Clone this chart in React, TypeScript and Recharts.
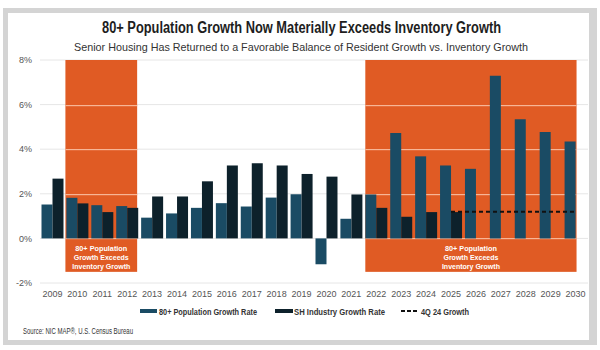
import React from 'react';
import {
  ComposedChart, Bar, Line, XAxis, YAxis, CartesianGrid, ReferenceArea, Legend,
} from 'recharts';

const years = ['2009','2010','2011','2012','2013','2014','2015','2016','2017','2018','2019','2020','2021','2022','2023','2024','2025','2026','2027','2028','2029','2030'];
const popGrowth = [1.52, 1.82, 1.49, 1.45, 0.93, 1.12, 1.37, 1.58, 1.43, 1.83, 1.98, -1.16, 0.88, 1.97, 4.73, 3.68, 3.27, 3.12, 7.29, 5.34, 4.77, 4.34];
const shGrowth: (number | null)[] = [2.68, 1.57, 1.18, 1.37, 1.88, 1.88, 2.56, 3.27, 3.37, 3.27, 2.89, 2.77, 1.97, 1.37, 0.97, 1.18, 1.18, null, null, null, null, null];
const q4Growth: (number | null)[] = [null, null, null, null, null, null, null, null, null, null, null, null, null, null, null, null, 1.2, 1.2, 1.2, 1.2, 1.2, 1.2];
const yTicks = [-2, 0, 2, 4, 6, 8];
const regionLabel = ['80+ Population', 'Growth Exceeds', 'Inventory Growth'];
const regionLabelWidths = [52, 55, 58];
const regionY1 = -1.5;
const regionY2 = 8;
const regions = [
  { from: '2010', to: '2012', bands: 3, trimL: 0.02, trimR: 0.1 },
  { from: '2022', to: '2030', bands: 9, trimL: 0.06, trimR: 0.46 },
];
const title = '80+ Population Growth Now Materially Exceeds Inventory Growth';
const subtitle = 'Senior Housing Has Returned to a Favorable Balance of Resident Growth vs. Inventory Growth';
const source = 'Source: NIC MAP®, U.S. Census Bureau';

const data = years.map((y, i) => ({ year: y, pop: popGrowth[i], sh: shGrowth[i], q4: q4Growth[i] }));

const POP = '#1a4b64';
const SH = '#0d212b';
const ORANGE = '#e05b24';
const SANS = '"Liberation Sans", Arial, sans-serif';

const makeShape = (bands: number, trimL: number, trimR: number) => (p: any) => {
  const top = Number(p.y);
  const h = Number(p.height);
  const bw = Number(p.width) / bands;
  const x = Number(p.x) + bw * trimL;
  const w = Number(p.width) - bw * (trimL + trimR);
  const cx = x + w / 2;
  const bottom = top + h;
  const perUnit = h / (regionY2 - regionY1);
  const gridVals = yTicks.filter((v) => v > regionY1 && v < regionY2);
  return (
    <g>
      <rect x={x} y={top} width={w} height={h} fill={ORANGE} stroke="none" />
      {gridVals.map((v) => (
        <rect key={`g${v}`} x={x} y={Math.round(top + (regionY2 - v) * perUnit)} width={w} height={1.2}
          fill="#f7b596" stroke="none" />
      ))}
      {regionLabel.map((t, i) => (
        <text key={i} x={cx} y={bottom - 21 + i * 9} textAnchor="middle" fill="#fff"
          fontFamily={SANS} fontWeight="bold" fontSize={8}
          textLength={regionLabelWidths[i]} lengthAdjust="spacingAndGlyphs">{t}</text>
      ))}
    </g>
  );
};

const legendItems = [
  { label: '80+ Population Growth Rate', color: POP, dashed: false, sw: 17, pad: 2, tw: 98, gap: 18 },
  { label: 'SH Industry Growth Rate', color: SH, dashed: false, sw: 18, pad: 1, tw: 91, gap: 16 },
  { label: '4Q 24 Growth', color: '#111', dashed: true, sw: 16, pad: 4, tw: 48, gap: 0 },
];

const LegendContent = () => {
  const total = legendItems.reduce((s, it) => s + it.sw + it.pad + it.tw + it.gap, 0);
  let x = 304.5 - total / 2;
  const els: React.ReactNode[] = [];
  legendItems.forEach((it, i) => {
    els.push(it.dashed
      ? <line key={`s${i}`} x1={x} y1={10} x2={x + it.sw} y2={10} stroke={it.color} strokeWidth={2} strokeDasharray="4 2" />
      : <rect key={`s${i}`} x={x} y={8} width={it.sw} height={4} fill={it.color} />);
    x += it.sw + it.pad;
    els.push(<text key={`t${i}`} x={x} y={13.5} fontFamily={SANS} fontWeight="bold" fontSize={9.5} fill="#333"
      textLength={it.tw} lengthAdjust="spacingAndGlyphs">{it.label}</text>);
    x += it.tw + it.gap;
  });
  return <svg width={600} height={20} style={{ display: 'block' }}>{els}</svg>;
};

export default function App() {
  return (
    <div style={{ position: 'absolute', left: 0, top: 0, width: 600, height: 350, background: '#fff', overflow: 'hidden' }}>
      <div style={{ position: 'absolute', left: 3, top: 8, width: 594, height: 337, boxSizing: 'border-box', borderStyle: 'solid', borderColor: '#d4d4d4', borderWidth: '5px 8px 5px 5px' }} />
      <svg width={600} height={350} style={{ position: 'absolute', left: 0, top: 0 }}>
        <text x={301.5} y={33} textAnchor="middle" fontFamily={SANS} fontWeight="bold" fontSize={16} fill="#1e1e1e"
          textLength={399} lengthAdjust="spacingAndGlyphs">{title}</text>
        <text x={301} y={50.5} textAnchor="middle" fontFamily={SANS} fontSize={11.5} fill="#333"
          textLength={454} lengthAdjust="spacingAndGlyphs">{subtitle}</text>
        <text x={23} y={334} fontFamily={SANS} fontSize={8.5} fill="#333"
          textLength={110} lengthAdjust="spacingAndGlyphs">{source}</text>
      </svg>
      <div style={{ position: 'absolute', left: 0, top: 0 }}>
        <ComposedChart width={600} height={350} data={data} barCategoryGap="6%" barGap={0}
          margin={{ top: 60, right: 12, bottom: 29, left: 0 }}>
          <CartesianGrid vertical={false} stroke="#e6e6e6" />
          <ReferenceArea x1={regions[0].from} x2={regions[0].to} y1={regionY1} y2={regionY2} ifOverflow="visible"
            shape={makeShape(regions[0].bands, regions[0].trimL, regions[0].trimR)} />
          <ReferenceArea x1={regions[1].from} x2={regions[1].to} y1={regionY1} y2={regionY2} ifOverflow="visible"
            shape={makeShape(regions[1].bands, regions[1].trimL, regions[1].trimR)} />
          <XAxis dataKey="year" axisLine={false} tickLine={false} tickSize={0} tickMargin={8} height={18}
            interval={0} tick={{ fill: '#555', fontSize: 9, fontFamily: SANS }} />
          <YAxis domain={[-2, 8]} ticks={yTicks} width={40} axisLine={false} tickLine={false} tickSize={0} tickMargin={8}
            tickFormatter={(v: number) => `${v}%`} tick={{ fill: '#555', fontSize: 9, fontFamily: SANS }} />
          <Bar dataKey="pop" name="80+ Population Growth Rate" fill={POP} isAnimationActive={false} />
          <Bar dataKey="sh" name="SH Industry Growth Rate" fill={SH} isAnimationActive={false} />
          <Line dataKey="q4" name="4Q 24 Growth" stroke="#111" strokeWidth={2} strokeDasharray="4 3" dot={false}
            connectNulls={false} isAnimationActive={false} />
          <Legend verticalAlign="bottom" height={20} content={<LegendContent />} />
        </ComposedChart>
      </div>
    </div>
  );
}
